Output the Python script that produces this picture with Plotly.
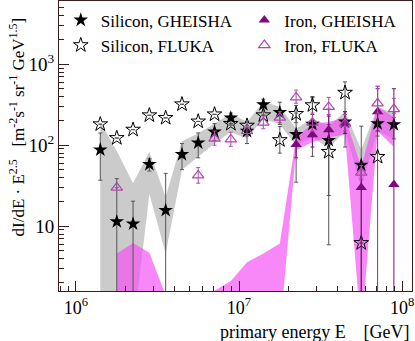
import plotly.graph_objects as go

# energy bins (GeV), 0.1 decade wide
energy = [1.41e6, 1.78e6, 2.24e6, 2.82e6, 3.55e6, 4.47e6, 5.62e6, 7.08e6, 8.91e6, 1.12e7,
          1.41e7, 1.78e7, 2.24e7, 2.82e7, 3.55e7, 4.47e7, 5.62e7, 7.08e7, 8.91e7]

# Silicon, GHEISHA (points + error bar ends)
si_gh = [88, 11.4, 10.7, 58, 15.7, 77, 107, 146, 218, 149, 318, 254, 136, 182, 115, 194, 57, 185, 180]
si_gh_hi = [142, 38.7, 20.4, 68, 45, 105, 142, 185, 250, 194, 370, 340, 250, 400, 280, 260, 172, 260, 250]
si_gh_lo = [37, 0.5, 0.5, 48, 0.5, 50, 70, 115, 177, 105, 235, 180, 35, 73, 24, 140, 0.5, 130, 120]

# Silicon, FLUKA
si_fl = [182, 123, 156, 235, 218, 321, 197, 241, 184, 175, 235, 116, 244, 313, 83, 446, 6.2, 72, None]
si_fl_hi = [182, 123, 156, 235, 218, 321, 197, 241, 184, 175, 235, 170, 310, 390, 180, 607, 6.2, 537, None]
si_fl_lo = [182, 123, 156, 235, 218, 321, 197, 241, 184, 175, 235, 80, 190, 240, 5.9, 95, 6.2, 0.5, None]

# Iron, GHEISHA
fe_gh = [None] * 12 + [102, 135, 155, 190, 30, 260, 32.7]
fe_gh_hi = [None] * 12 + [150, 200, 230, 260, 60, 500, 500]
fe_gh_lo = [None] * 12 + [70, 95, 110, 140, 0.5, 150, 0.5]

# Iron, FLUKA
fe_fl = [None, 30, None, None, None, None, 42.5, 121, 118, 150, 190, 220, 390, 190, 298, 185, 46, 330, 280]
fe_fl_hi = [None, 30, None, None, None, None, 53, 150, 145, 175, 230, 260, 480, 250, 390, 240, 56, 530, 380]
fe_fl_lo = [None, 30, None, None, None, None, 34, 100, 97, 130, 160, 190, 330, 150, 240, 150, 38, 250, 220]

# uncertainty bands
si_band_hi = [194, 85, 34, 83, 23, 112, 140, 185, 247, 194, 344, 300, 160, 215, 172, 262, 88, 300, 245]
si_band_lo = [0.5, 0.5, 0.5, 25, 4.6, 50, 72, 105, 146, 121, 214, 180, 100, 125, 92, 150, 30, 150, 118]
fe_band1_idx = [1, 2, 3, 4]
fe_band1_hi = [4.6, 6.2, 4.7, 1.4]
fe_band1_lo = [0.5, 0.5, 0.5, 0.5]
fe_band2_idx = [7, 8, 9, 10, 11, 12, 13, 14, 15, 16, 17, 18]
fe_band2_hi = [1.6, 2.1, 3.6, 4.6, 6.1, 126, 185, 194, 220, 54, 300, 224]
fe_band2_lo = [0.5, 0.5, 0.5, 0.5, 0.5, 87, 110, 126, 135, 0.5, 150, 95]

GREY = 'rgba(160,160,160,0.55)'
PINK = 'rgba(245,80,245,0.68)'
SI_ERR = '#555555'
FE_DARK = '#7d0a7d'
FE_LIGHT = '#b048b0'
FONT = '"Liberation Serif", "Times New Roman", "DejaVu Serif", serif'


def band(xs, hi, lo, color):
    return go.Scatter(x=xs + xs[::-1], y=hi + lo[::-1], fill='toself', fillcolor=color,
                      mode='lines', line=dict(width=0), showlegend=False, hoverinfo='skip')


def errs(vals, hi, lo):
    up = [(h - v) if v is not None else None for v, h in zip(vals, hi)]
    dn = [(v - l) if v is not None else None for v, l in zip(vals, lo)]
    return up, dn


fig = go.Figure()
fig.add_trace(band(energy, si_band_hi, si_band_lo, GREY))
fig.add_trace(band([energy[i] for i in fe_band1_idx], fe_band1_hi, fe_band1_lo, PINK))
fig.add_trace(band([energy[i] for i in fe_band2_idx], fe_band2_hi, fe_band2_lo, PINK))

up, dn = errs(si_gh, si_gh_hi, si_gh_lo)
fig.add_trace(go.Scatter(x=energy, y=si_gh, mode='markers', name='Silicon, GHEISHA',
                         marker=dict(symbol='star', size=11, color='black'),
                         error_y=dict(type='data', symmetric=False, array=up, arrayminus=dn,
                                      color=SI_ERR, thickness=1, width=2),
                         legend='legend'))
up, dn = errs(si_fl, si_fl_hi, si_fl_lo)
fig.add_trace(go.Scatter(x=energy, y=si_fl, mode='markers', name='Silicon, FLUKA',
                         marker=dict(symbol='star-open', size=11, color='black', line=dict(width=1)),
                         error_y=dict(type='data', symmetric=False, array=up, arrayminus=dn,
                                      color=SI_ERR, thickness=1, width=2),
                         legend='legend'))
up, dn = errs(fe_gh, fe_gh_hi, fe_gh_lo)
fig.add_trace(go.Scatter(x=energy, y=fe_gh, mode='markers', name='Iron, GHEISHA',
                         marker=dict(symbol='triangle-up', size=10, color=FE_DARK),
                         error_y=dict(type='data', symmetric=False, array=up, arrayminus=dn,
                                      color=FE_DARK, thickness=1, width=2),
                         legend='legend2'))
up, dn = errs(fe_fl, fe_fl_hi, fe_fl_lo)
fig.add_trace(go.Scatter(x=energy, y=fe_fl, mode='markers', name='Iron, FLUKA',
                         marker=dict(symbol='triangle-up-open', size=10, color=FE_LIGHT,
                                     line=dict(width=1.2)),
                         error_y=dict(type='data', symmetric=False, array=up, arrayminus=dn,
                                      color=FE_LIGHT, thickness=1, width=2),
                         legend='legend2'))

minor_x = [m * 10 ** d for d in (5, 6, 7) for m in range(2, 10)]
minor_y = [m * 10 ** d for d in (0, 1, 2, 3) for m in range(2, 10)]
AXIS = '#3a1c1c'

fig.update_layout(
    width=415, height=341,
    margin=dict(l=59, r=3, t=1, b=50, autoexpand=False),
    paper_bgcolor='white', plot_bgcolor='white',
    font=dict(family=FONT, size=18, color='black'),
    xaxis=dict(type='log', range=[5.896, 8.061], showgrid=False, zeroline=False,
               showline=True, linecolor=AXIS, linewidth=1, mirror=True,
               ticks='inside', ticklen=10, tickcolor=AXIS,
               tickvals=[1e6, 1e7, 1e8],
               ticktext=['10<sup>6</sup>', '10<sup>7</sup>', '10<sup>8</sup>'],
               minor=dict(tickvals=minor_x, ticks='inside', ticklen=5, tickcolor=AXIS, showgrid=False),
               tickfont=dict(family=FONT, size=18)),
    yaxis=dict(type='log', range=[0.2, 3.782], showgrid=False, zeroline=False,
               showline=True, linecolor=AXIS, linewidth=1, mirror=True,
               ticks='inside', ticklen=10, tickcolor=AXIS,
               tickvals=[10, 100, 1000],
               ticktext=['10', '10<sup>2</sup>', '10<sup>3</sup>'],
               minor=dict(tickvals=minor_y, ticks='inside', ticklen=5, tickcolor=AXIS, showgrid=False),
               tickfont=dict(family=FONT, size=19)),
    legend=dict(x=0.005, y=0.995, xanchor='left', yanchor='top', bgcolor='rgba(0,0,0,0)',
                font=dict(family=FONT, size=17), tracegroupgap=0, itemwidth=30),
    legend2=dict(x=0.525, y=0.995, xanchor='left', yanchor='top', bgcolor='rgba(0,0,0,0)',
                 font=dict(family=FONT, size=17), tracegroupgap=0, itemwidth=30),
    annotations=[
        dict(text='primary energy E    [GeV]', xref='paper', yref='paper', x=1.0, y=-0.1,
             xanchor='right', yanchor='top', showarrow=False, font=dict(family=FONT, size=18)),
        dict(text='dI/dE · E<sup>2.5</sup>   [m<sup>-2</sup>s<sup>-1</sup> sr<sup>-1</sup> GeV<sup>1.5</sup>]',
             xref='paper', yref='paper', x=-0.118, y=0.565, xanchor='center', yanchor='middle',
             textangle=-90, showarrow=False, font=dict(family=FONT, size=17)),
    ],
)

# drop the page's default body margin so the 415x341 figure fills the window
fig.write_html('out.html', config={'displayModeBar': False},
               post_script="document.body.style.margin='0';")
